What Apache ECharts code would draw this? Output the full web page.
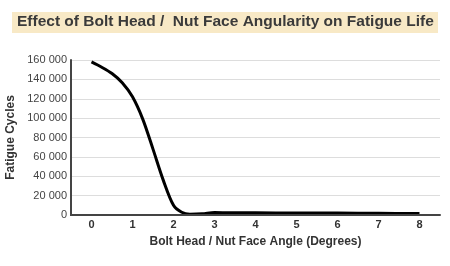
<!DOCTYPE html>
<html><head><meta charset="utf-8">
<script src="https://cdn.jsdelivr.net/npm/echarts@6/dist/echarts.min.js"></script>
<style>html,body{margin:0;padding:0;background:#fff}#c{width:450px;height:266px}</style>
</head><body><div id="c"></div>
<script>
const titleText = 'Effect of Bolt Head /  Nut Face Angularity on Fatigue Life';
const xTitle = 'Bolt Head / Nut Face Angle (Degrees)';
const yTitle = 'Fatigue Cycles';
const angles = [0, 0.25, 0.5, 0.75, 1, 1.25, 1.5, 1.75, 2, 2.2, 2.4, 2.7, 3, 3.4, 4, 5, 6, 7, 8];
const cycles = [158000, 152500, 146000, 136500, 122000, 99000, 68000, 36000, 10000, 2800, 900, 1300, 2600, 2200, 2200, 2100, 2000, 1800, 1500];
const xTicks = [0, 1, 2, 3, 4, 5, 6, 7, 8];
const xMin = -0.5, xMax = 8.5, yMin = 0, yMax = 160000;

const chart = echarts.init(document.getElementById('c'));
chart.setOption({
  animation: false,
  graphic: [{
    id: 'titleBg', type: 'rect', left: 12, top: 12, shape: {width: 426, height: 21},
    style: {fill: '#f8e9c6'}, silent: true
  }],
  title: {
    text: titleText, left: 17, top: 14, padding: 0,
    textStyle: {fontFamily: 'Liberation Sans, Arial', fontWeight: 'bold', fontSize: 15.5, color: '#3a3a3a'}
  },
  grid: {left: 71, right: 10, top: 60, bottom: 51, outerBoundsMode: 'none', containLabel: false},
  xAxis: {
    type: 'value', min: xMin, max: xMax,
    name: xTitle, nameLocation: 'middle', nameGap: 21,
    nameTextStyle: {fontFamily: 'Liberation Sans, Arial', fontWeight: 'bold', fontSize: 12, color: '#333'},
    axisLine: {show: true, onZero: false, lineStyle: {color: '#444', width: 2}},
    axisTick: {show: false},
    splitLine: {show: false},
    axisLabel: {customValues: xTicks, fontFamily: 'Liberation Sans, Arial', fontWeight: 'bold', fontSize: 11, color: '#333', margin: 4}
  },
  yAxis: {
    type: 'value', min: yMin, max: yMax, interval: 20000,
    name: yTitle, nameLocation: 'middle', nameGap: 50,
    nameTextStyle: {fontFamily: 'Liberation Sans, Arial', fontWeight: 'bold', fontSize: 12, color: '#333'},
    axisLine: {show: true, onZero: false, lineStyle: {color: '#444', width: 2}},
    axisTick: {show: false},
    splitLine: {show: true, lineStyle: {color: '#ddd', width: 1}},
    axisLabel: {fontFamily: 'Liberation Sans, Arial', fontSize: 11, color: '#444', margin: 4,
      formatter: v => String(v).replace(/\B(?=(\d{3})+(?!\d))/g, ' ')}
  },
  series: [{
    type: 'line', smooth: 0.3, symbol: 'none',
    data: angles.map((a, i) => [a, cycles[i]]),
    lineStyle: {color: '#000', width: 3}
  }]
});
// Axis lines placed through the chart's own scales
const origin = chart.convertToPixel({gridIndex: 0}, [xMin, yMin]);
const topLeft = chart.convertToPixel({gridIndex: 0}, [xMin, yMax]);
const bottomRight = chart.convertToPixel({gridIndex: 0}, [xMax, yMin]);
chart.setOption({
  graphic: [
    {id: 'yLine', type: 'line', z: 50, silent: true,
     shape: {x1: origin[0], y1: origin[1], x2: topLeft[0], y2: topLeft[1]},
     style: {stroke: '#444', lineWidth: 2}},
    {id: 'xLine', type: 'line', z: 50, silent: true,
     shape: {x1: origin[0] - 1, y1: origin[1], x2: bottomRight[0], y2: bottomRight[1]},
     style: {stroke: '#444', lineWidth: 2}}
  ]
});
</script></body></html>
